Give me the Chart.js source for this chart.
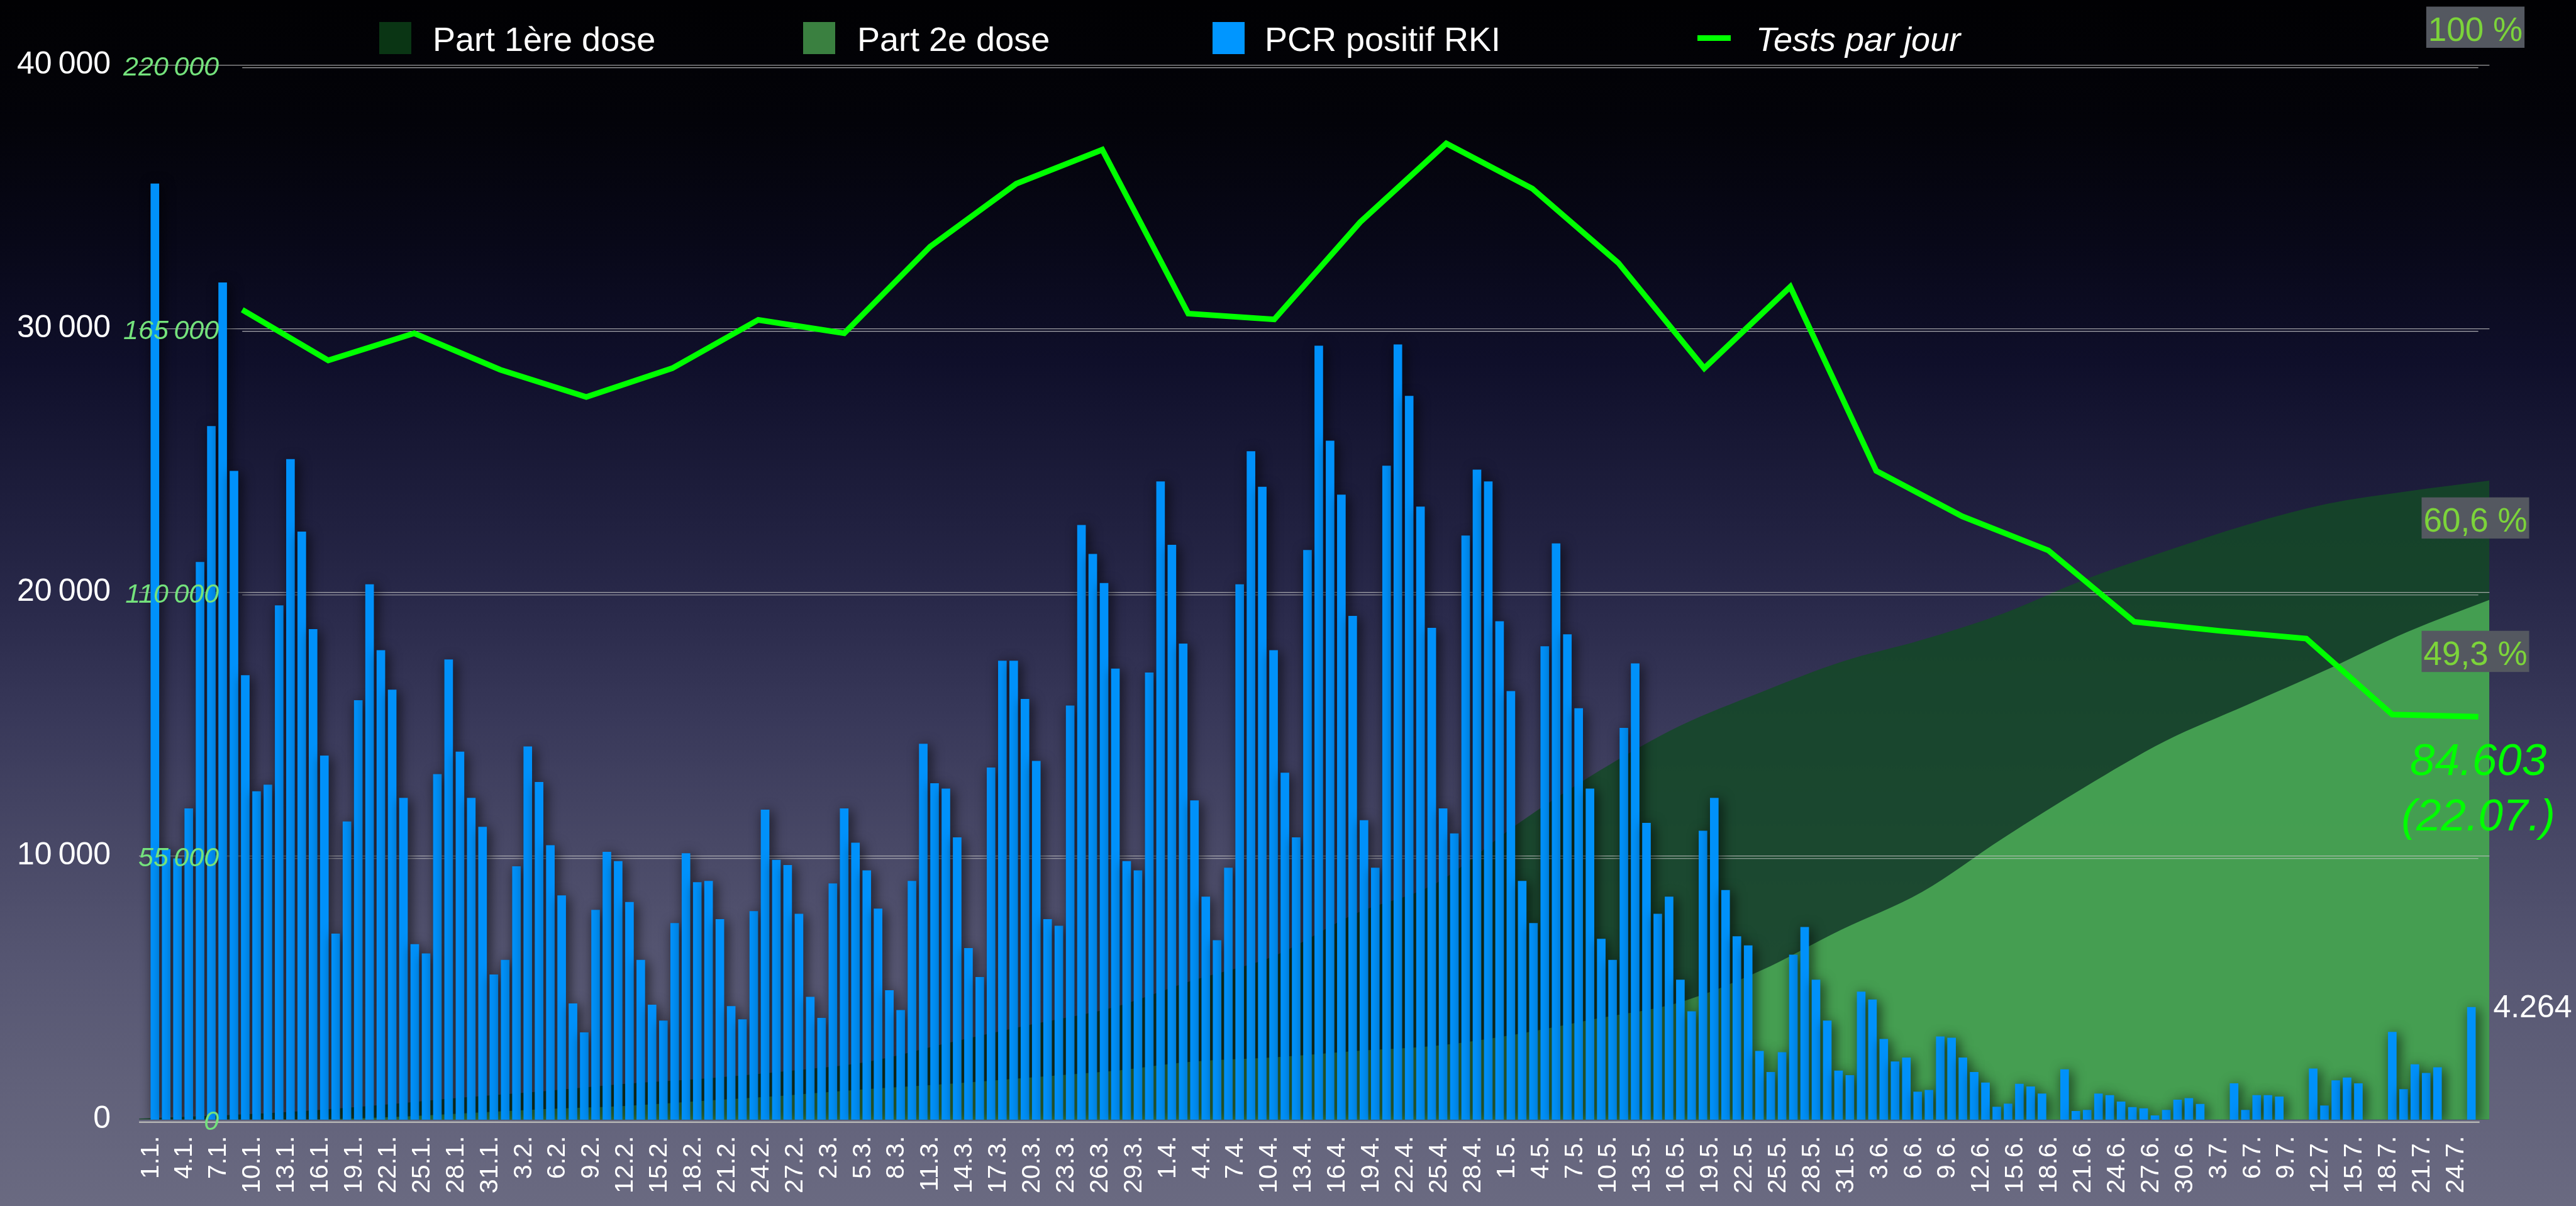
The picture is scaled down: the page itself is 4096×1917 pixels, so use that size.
<!DOCTYPE html>
<html><head><meta charset="utf-8">
<script src="https://cdn.jsdelivr.net/npm/chart.js@4.4.1/dist/chart.umd.min.js"></script>
<style>html,body{margin:0;padding:0;background:#000;overflow:hidden}canvas{display:block}</style>
</head><body>
<canvas id="c" width="4096" height="1917"></canvas>
<script>
// ---------- DATA ----------
const legendLabels = ['Part 1ère dose', 'Part 2e dose', 'PCR positif RKI', 'Tests par jour'];

const tickLabels = ["1.1.","4.1.","7.1.","10.1.","13.1.","16.1.","19.1.","22.1.","25.1.","28.1.","31.1.",
 "3.2.","6.2.","9.2.","12.2.","15.2.","18.2.","21.2.","24.2.","27.2.",
 "2.3.","5.3.","8.3.","11.3.","14.3.","17.3.","20.3.","23.3.","26.3.","29.3.",
 "1.4.","4.4.","7.4.","10.4.","13.4.","16.4.","19.4.","22.4.","25.4.","28.4.",
 "1.5.","4.5.","7.5.","10.5.","13.5.","16.5.","19.5.","22.5.","25.5.","28.5.","31.5.",
 "3.6.","6.6.","9.6.","12.6.","15.6.","18.6.","21.6.","24.6.","27.6.","30.6.",
 "3.7.","6.7.","9.7.","12.7.","15.7.","18.7.","21.7.","24.7."];

// daily PCR positives, 1.1. .. 25.7. (null = no value)
const cases = [
 35500,10250,9900,11800,21150,26300,31750,24600,16850,12450,
 12700,19500,25050,22300,18600,13800,7050,11300,15900,20300,
 17800,16300,12200,6650,6300,13100,17450,13950,12200,11100,
 5500,6050,9600,14150,12800,10400,8500,4400,3300,7950,
 10150,9800,8250,6050,4350,3750,7450,10100,9000,9050,
 7600,4300,3800,7900,11750,9850,9650,7800,4650,3850,
 8950,11800,10500,9450,8000,4900,4150,9050,14250,12750,
 12550,10700,6500,5400,13350,17400,17400,15950,13600,7600,
 7350,15700,22550,21450,20350,17100,9800,9450,16950,24200,
 21800,18050,12100,8450,6800,9550,20300,25350,24000,17800,
 13150,10700,21600,29350,25750,23700,19100,11350,9550,24800,
 29400,27450,23250,18650,11800,10850,22150,24650,24200,18900,
 16250,9050,7450,17950,21850,18400,15600,12550,6850,6050,
 14850,17300,11250,7800,8450,5300,4100,10950,12200,8700,
 6950,6600,2600,1800,2550,6250,7300,5300,3750,1850,
 1680,4850,4550,3050,2200,2350,1050,1120,3150,3100,
 2350,1800,1400,480,600,1350,1250,980,null,1900,
 320,360,980,920,680,470,420,150,360,750,
 810,590,null,null,1370,360,920,920,870,null,
 null,1930,530,1480,1590,1370,null,null,3320,1150,
 2090,1760,1980,null,null,4264];

// weekly tests per day (last point = 22.07.)
const testsWeekly = [169500,158950,164600,157000,151300,157300,167400,164600,182700,195800,
 202900,168700,167500,187800,204200,194800,179300,157300,174300,135900,
 126400,119300,104400,102500,100900,85050,84603];
const testsLastDate = '22.07.';

// share of population vaccinated (%), read at regular steps over the period
const dose1 = [0.1,0.4,0.8,1.4,2.1,2.7,3.4,3.9,4.6,5.5,7.3,9.0,10.6,13.2,15.5,19.5,22.4,28.0,33.0,37.3,
 40.5,43.4,45.5,48.0,51.2,53.9,56.4,58.4,59.6,60.6];
const dose2 = [0.0,0.0,0.0,0.2,0.6,1.0,1.3,1.8,2.3,2.9,3.4,4.0,4.6,5.5,5.9,6.5,7.0,8.1,9.6,11.1,
 14.1,18.0,21.6,26.7,31.5,35.9,39.3,42.7,46.3,49.3];

const caseTicks = [0, 10000, 20000, 30000, 40000];
const testTicks = [0, 55000, 110000, 165000, 220000];
const pctLabels = ['100 %', '60,6 %', '49,3 %'];

// ---------- CHART ----------
const F = "'Liberation Sans', Arial, Helvetica, sans-serif";
Chart.defaults.font.family = F;
const fmt = v => v === 0 ? '0' : Math.round(v / 1000) + '\u2009000';
const fmtDot = v => String(v).replace(/\B(?=(\d{3})+(?!\d))/g, '.');

const bgPlugin = {
  id: 'bg',
  beforeDraw(chart) {
    const {ctx, width, height} = chart;
    const g = ctx.createLinearGradient(0, 0, 0, height);
    g.addColorStop(0.00, '#010103');
    g.addColorStop(0.10, '#030309');
    g.addColorStop(0.20, '#080818');
    g.addColorStop(0.30, '#0f0f2a');
    g.addColorStop(0.40, '#1c1c3a');
    g.addColorStop(0.50, '#29294a');
    g.addColorStop(0.60, '#39395a');
    g.addColorStop(0.70, '#484866');
    g.addColorStop(0.80, '#565672');
    g.addColorStop(0.90, '#61617a');
    g.addColorStop(1.00, '#6a6a81');
    ctx.save(); ctx.fillStyle = g; ctx.fillRect(0, 0, width, height); ctx.restore();
  }
};

function hline(ctx, x0, x1, y) { ctx.beginPath(); ctx.moveTo(x0, y); ctx.lineTo(x1, y); ctx.stroke(); }

const gridPlugin = {
  id: 'grids',
  afterDatasetDraw(chart, args) {
    if (chart.data.datasets[args.index].id !== 'dose2') return;
    const {ctx, chartArea: a, scales: {y, yt, xw}} = chart;
    ctx.save();
    ctx.lineWidth = 1.2;
    ctx.strokeStyle = 'rgba(195,195,195,0.8)';
    caseTicks.forEach(v => { if (v > 0) hline(ctx, a.left, a.right, y.getPixelForValue(v)); });
    const x0 = xw.getPixelForValue(0), x1 = xw.getPixelForValue(testsWeekly.length - 1);
    ctx.strokeStyle = 'rgba(210,210,210,0.8)';
    testTicks.forEach(v => { if (v > 0) hline(ctx, x0, x1, yt.getPixelForValue(v)); });
    ctx.restore();
  },
  afterDatasetsDraw(chart) {
    const {ctx, chartArea: a, scales: {yt, xw}} = chart;
    ctx.save();
    ctx.lineWidth = 2.5; ctx.strokeStyle = '#b4b4b4';
    hline(ctx, a.left, xw.getPixelForValue(testsWeekly.length - 1) + 2, yt.getPixelForValue(0));
    ctx.restore();
  }
};

const shadowPlugin = {
  id: 'barShadow',
  beforeDatasetDraw(chart, args) {
    if (chart.data.datasets[args.index].id !== 'cases') return;
    const ctx = chart.ctx;
    ctx.save();
    ctx.shadowColor = 'rgba(0,0,0,0.75)';
    ctx.shadowBlur = 20; ctx.shadowOffsetX = 4; ctx.shadowOffsetY = 3;
  },
  afterDatasetDraw(chart, args) {
    if (chart.data.datasets[args.index].id !== 'cases') return;
    chart.ctx.restore();
  }
};

const annotPlugin = {
  id: 'annot',
  afterDraw(chart) {
    const {ctx, chartArea: a, scales: {y, yt, xw}} = chart;
    ctx.save();
    // legend
    ctx.textBaseline = 'alphabetic'; ctx.textAlign = 'left';
    const lf = '54px ' + F;
    const boxes = [['#0a3514', 603, 688], ['#3a8040', 1277, 1363], ['#0096ff', 1928, 2011]];
    boxes.forEach((b, i) => {
      ctx.fillStyle = b[0]; ctx.fillRect(b[1], 35, 51, 51);
      ctx.fillStyle = '#ffffff'; ctx.font = lf; ctx.fillText(legendLabels[i], b[2], 81);
    });
    ctx.fillStyle = '#00ff00'; ctx.fillRect(2699, 56, 53, 9);
    ctx.fillStyle = '#ffffff'; ctx.font = 'italic 54px ' + F; ctx.fillText(legendLabels[3], 2792, 81);

    // percentage boxes
    ctx.font = '53px ' + F; ctx.textAlign = 'center';
    const cx = 3936;
    const baseLines = [64.5, 844.6, 1056.7];
    pctLabels.forEach((t, i) => {
      const w = ctx.measureText(t).width;
      const bl = baseLines[i];
      ctx.fillStyle = '#545860';
      ctx.fillRect(cx - w / 2 - 3, bl - 54, w + 6, 65.5);
      ctx.fillStyle = '#7cd43a';
      ctx.fillText(t, cx, bl);
    });

    // last tests value
    const last = testsWeekly[testsWeekly.length - 1];
    const lx = xw.getPixelForValue(testsWeekly.length - 1);
    const ly = yt.getPixelForValue(last);
    ctx.fillStyle = '#00ff00'; ctx.font = 'italic 71px ' + F; ctx.textAlign = 'center';
    ctx.fillText(fmtDot(last), lx, ly + 93);
    ctx.fillText('(' + testsLastDate + ')', lx, ly + 181);

    // last case value
    const lc = cases[cases.length - 1];
    ctx.fillStyle = '#ffffff'; ctx.font = '50px ' + F; ctx.textAlign = 'left'; ctx.textBaseline = 'middle';
    ctx.fillText(fmtDot(lc), a.right + 6, y.getPixelForValue(lc) + 2);
    ctx.restore();
  }
};

new Chart(document.getElementById('c'), {
  type: 'bar',
  data: {
    datasets: [
      { id: 'tests', type: 'line', label: legendLabels[3], data: testsWeekly.map((v, i) => ({x: i, y: v})),
        xAxisID: 'xw', yAxisID: 'yt', borderColor: '#00ff00', borderWidth: 9, pointRadius: 0,
        tension: 0, borderJoinStyle: 'miter', fill: false, order: 0 },
      { id: 'cases', type: 'bar', label: legendLabels[2], data: cases.map((v, i) => ({x: i, y: v})),
        xAxisID: 'x', yAxisID: 'y', backgroundColor: '#0091fa', barThickness: 13, order: 1 },
      { id: 'dose2', type: 'line', label: legendLabels[1], data: dose2.map((v, i) => ({x: i, y: v})),
        xAxisID: 'xa', yAxisID: 'yp', borderWidth: 0, pointRadius: 0, cubicInterpolationMode: 'monotone',
        fill: 'origin', backgroundColor: 'rgba(72,165,84,0.93)', borderColor: 'rgba(0,0,0,0)', order: 2 },
      { id: 'dose1', type: 'line', label: legendLabels[0], data: dose1.map((v, i) => ({x: i, y: v})),
        xAxisID: 'xa', yAxisID: 'yp', borderWidth: 0, pointRadius: 0, cubicInterpolationMode: 'monotone',
        fill: 'origin', backgroundColor: 'rgba(20,72,38,0.86)', borderColor: 'rgba(0,0,0,0)', order: 3 }
    ]
  },
  options: {
    responsive: false, animation: false, devicePixelRatio: 1,
    layout: { padding: { left: 0, top: 103.6, right: 137.6, bottom: 0 } },
    plugins: { legend: { display: false }, tooltip: { enabled: false } },
    scales: {
      x: {
        type: 'linear', position: 'bottom', min: -1.4, max: 206.6, offset: false,
        afterBuildTicks: s => { s.ticks = tickLabels.map((_, i) => ({value: i * 3})); },
        afterFit: s => { s.height = 1917 - 1779.7; },
        ticks: { autoSkip: false, minRotation: 90, maxRotation: 90, padding: 26, labelOffset: -6,
                 color: '#ffffff', font: { size: 41 }, callback: (v, i) => tickLabels[i] },
        grid: { display: false, drawTicks: false, offset: false }, border: { display: false }
      },
      xw: { type: 'linear', display: false, min: -1.2, max: 26.13, offset: false, grid: { offset: false } },
      xa: { type: 'linear', display: false, min: 0, max: 29, offset: false, grid: { offset: false } },
      y: {
        type: 'linear', position: 'left', min: 0, max: 40000, weight: 1,
        afterBuildTicks: s => { s.ticks = caseTicks.map(v => ({value: v})); },
        afterFit: s => { s.width = 221.1; },
        ticks: { color: '#ffffff', font: { size: 50 }, padding: 45, callback: fmt },
        grid: { display: false, drawTicks: false }, border: { display: false }
      },
      yt: {
        type: 'linear', position: 'left', min: 538, max: 220538, weight: 0, z: 1,
        afterBuildTicks: s => { s.ticks = testTicks.map(v => ({value: v})); },
        afterFit: s => { s.width = 0; },
        ticks: { z: 1, mirror: true, crossAlign: 'far', padding: -25, color: '#74e27c',
                 font: { size: 43, style: 'italic' }, callback: fmt },
        grid: { display: false, drawTicks: false }, border: { display: false }
      },
      yp: { type: 'linear', display: false, min: 0, max: 100 }
    }
  },
  plugins: [bgPlugin, shadowPlugin, gridPlugin, annotPlugin]
});
</script>
</body></html>
